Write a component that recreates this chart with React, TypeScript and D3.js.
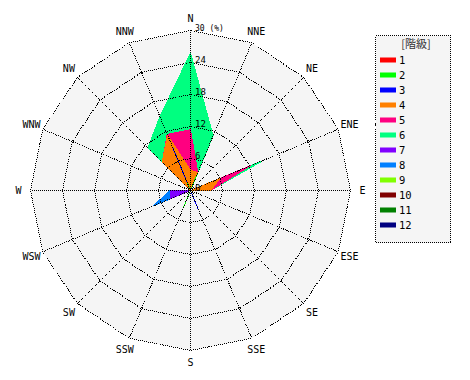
import React from 'react';
import * as d3 from 'd3';

// Directions clockwise from north
const directions = ['N', 'NNE', 'NE', 'ENE', 'E', 'ESE', 'SE', 'SSE', 'S', 'SSW', 'SW', 'WSW', 'W', 'WNW', 'NW', 'NNW'];
const classLabels = ['1', '2', '3', '4', '5', '6', '7', '8', '9', '10', '11', '12'];
const classColors = ['#ff0000', '#00ff00', '#0000ff', '#ff8000', '#ff0080', '#00ff80', '#8000ff', '#0080ff', '#80ff00', '#800000', '#008000', '#000080'];
const radialTicks = [0, 6, 12, 18, 24, 30];

// Frequency (%) per class, order: N NNE NE ENE E ESE SE SSE S SSW SW WSW W WNW NW NNW
const c1 = [0, 0, 0, 0, 0, 0, 0, 0, 0, 0, 0, 0, 0, 0, 0, 0];
const c2 = [0, 3.5, 0, 0, 0, 0, 0, 0, 0, 3.4, 0, 0, 0, 0, 0, 1.5];
const c3 = [0, 0, 0, 0, 0, 0, 0, 4.0, 0, 0, 0, 0, 0, 0, 0, 7.2];
const c4 = [3.8, 0.1, 0, 6.0, 3.8, 0, 0, 0, 0, 0, 0, 0, 0, 0, 7.5, 2.5];
const c5 = [7.6, 0, 0, 6.2, 0, 0, 0, 0, 0, 0, 0, 0, 0, 0, 0, 0.2];
const c6 = [14.4, 7.5, 0, 2.7, 0, 0, 0, 0, 0, 0, 0, 0, 0, 0, 3.8, 3.6];
const c7 = [0, 0, 0, 0, 0, 0, 0, 0, 0, 0, 0, 4.0, 3.8, 0, 0, 0];
const c8 = [0, 0, 0, 0, 0, 0, 0, 0, 0, 0, 0, 3.6, 0, 0, 0, 0];
const c9 = [0, 0, 0, 0, 0, 0, 0, 0, 0, 0, 0, 0, 0, 0, 0, 0];
const c10 = [0, 0, 0, 0, 0, 0, 0, 0, 0, 0, 0, 0, 0, 0, 0, 0];
const c11 = [0, 0, 0, 0, 0, 0, 0, 0, 0, 0, 0, 0, 0, 0, 0, 0];
const c12 = [0, 0, 0, 0, 0, 0, 0, 0, 0, 0, 0, 0, 0, 0, 0, 0];
const series = [c1, c2, c3, c4, c5, c6, c7, c8, c9, c10, c11, c12];

const W = 470;
const H = 380;
const cx = 190.5;
const cy = 190.5;
const R = 160;

export default function App() {
  const r = d3.scaleLinear().domain([0, 30]).range([0, R]);
  const angle = d3.scaleLinear().domain([0, directions.length]).range([0, 2 * Math.PI]);

  const radial = d3
    .lineRadial<number>()
    .angle((_, i) => angle(i))
    .radius((d) => r(d))
    .curve(d3.curveLinearClosed);

  // cumulative stacks
  const cumulative: number[][] = [];
  series.forEach((s, k) => {
    cumulative.push(s.map((v, i) => v + (k > 0 ? cumulative[k - 1][i] : 0)));
  });

  const ringVals = radialTicks.filter((t) => t > 0);
  const outer = radial(directions.map(() => 30)) || '';
  const mono = "'DejaVu Sans Mono', monospace";

  const lx = 375.5;
  const ly = 35.5;

  return (
    <svg width={W} height={H} style={{ position: 'absolute', left: 0, top: 0, background: '#fff' }}>
      <g transform={`translate(${cx},${cy})`}>
        <path d={outer} fill="#f5f5f5" stroke="none" />
        {cumulative
          .map((cum, k) => ({ cum, k }))
          .reverse()
          .filter(({ k }) => series[k].some((v) => v > 0))
          .map(({ cum, k }) => (
            <path
              key={k}
              d={radial(cum) || ''}
              fill={classColors[k]}
              stroke={classColors[k]}
              strokeWidth={1}
              strokeLinejoin="miter"
              shapeRendering="crispEdges"
            />
          ))}
        {ringVals.map((t) => (
          <path
            key={t}
            d={radial(directions.map(() => t)) || ''}
            fill="none"
            stroke="#000"
            strokeWidth={1}
            strokeDasharray="1,1"
            shapeRendering="crispEdges"
          />
        ))}
        {directions.map((d, i) => {
          const a = angle(i);
          return (
            <line
              key={d}
              x1={0}
              y1={0}
              x2={R * Math.sin(a)}
              y2={-R * Math.cos(a)}
              stroke="#000"
              strokeWidth={1}
              strokeDasharray="1,1"
              shapeRendering="crispEdges"
            />
          );
        })}
        {radialTicks.map((t) => (
          <text
            key={t}
            x={4.5}
            y={-r(t)}
            fontFamily={mono}
            fontSize={t === 30 ? 8 : 9}
            fill="#000"
          >
            {t === 30 ? '30 (%)' : String(t)}
          </text>
        ))}
        {directions.map((d, i) => {
          const a = angle(i);
          const lr = 172;
          return (
            <text
              key={d}
              x={lr * Math.sin(a)}
              y={-lr * Math.cos(a)}
              textAnchor="middle"
              dominantBaseline="central"
              fontFamily={mono}
              fontSize={10}
              fill="#000"
            >
              {d}
            </text>
          );
        })}
      </g>
      <g>
        <rect x={lx} y={ly} width={75} height={207} fill="#f5f5f5" stroke="#000" strokeDasharray="1,1" shapeRendering="crispEdges" />
        <text
          x={416}
          y={43}
          textAnchor="middle"
          dominantBaseline="central"
          fontFamily="'Noto Sans CJK JP', sans-serif"
          fontSize={11}
          fill="#333"
        >
          [階級]
        </text>
        {classLabels.map((c, i) => {
          const y = 60 + i * 15;
          return (
            <g key={c}>
              <rect x={380} y={y - 2.5} width={16} height={5} fill={classColors[i]} />
              <text x={399} y={y} dominantBaseline="central" fontFamily={mono} fontSize={10.5} fill="#000">
                {c}
              </text>
            </g>
          );
        })}
      </g>
    </svg>
  );
}
